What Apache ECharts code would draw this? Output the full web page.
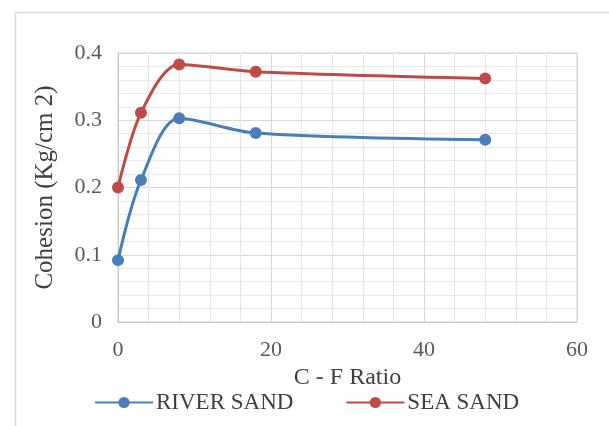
<!DOCTYPE html>
<html>
<head>
<meta charset="utf-8">
<script src="https://cdn.jsdelivr.net/npm/echarts@6/dist/echarts.min.js"></script>
<style>
  html, body { margin: 0; padding: 0; background: #ffffff; }
  #chart { width: 609px; height: 426px; }
</style>
</head>
<body>
<div id="chart"></div>
<script>
// C - F ratio values at which cohesion was measured
const cfRatio = [0, 3, 8, 18, 48];
// Cohesion in Kg/cm 2
const riverSand = [0.092, 0.211, 0.303, 0.281, 0.271];
const seaSand = [0.200, 0.311, 0.383, 0.372, 0.362];
const xTicks = [0, 20, 40, 60];
const yTicks = [0, 0.1, 0.2, 0.3, 0.4];

const serif = '"Liberation Serif", "DejaVu Serif", serif';
const pairs = (xs, ys) => xs.map((x, i) => [x, ys[i]]);

const chart = echarts.init(document.getElementById('chart'));
chart.setOption({
  animation: false,
  backgroundColor: '#ffffff',
  graphic: [{
    type: 'rect',
    left: 13, top: 10,
    shape: { width: 620, height: 430 },
    style: { fill: 'none', stroke: '#d9d9d9', lineWidth: 1.5 },
    silent: true
  }],
  grid: { left: 118, right: 32, top: 53, bottom: 104, show: true, borderColor: '#d0d0d0', borderWidth: 1 },
  legend: {
    bottom: 7,
    left: 89,
    itemGap: 52,
    itemWidth: 58,
    itemHeight: 14,
    textStyle: { fontFamily: serif, fontSize: 23, color: '#404040', padding: [0, 0, 0, -2] },
    data: ['RIVER SAND', 'SEA SAND']
  },
  xAxis: {
    type: 'value',
    min: 0, max: 60, interval: 20,
    name: 'C - F Ratio',
    nameLocation: 'middle',
    nameGap: 42,
    nameTextStyle: { fontFamily: serif, fontSize: 24, color: '#404040' },
    axisLine: { show: true, lineStyle: { color: '#c8c8c8' } },
    axisTick: { show: false },
    axisLabel: {
      margin: 17, fontFamily: serif, fontSize: 22, color: '#595959',
      formatter: v => xTicks.includes(v) ? String(v) : ''
    },
    splitLine: { show: true, lineStyle: { color: '#d9d9d9' } },
    minorTick: { show: false, splitNumber: 5 },
    minorSplitLine: { show: true, lineStyle: { color: '#e6e6e6' } }
  },
  yAxis: {
    type: 'value',
    min: 0, max: 0.4, interval: 0.1,
    name: 'Cohesion (Kg/cm 2)',
    nameLocation: 'middle',
    nameGap: 60,
    nameTextStyle: { fontFamily: serif, fontSize: 25, color: '#404040' },
    axisLine: { show: true, lineStyle: { color: '#c8c8c8' } },
    axisTick: { show: false },
    axisLabel: {
      margin: 16, fontFamily: serif, fontSize: 22, color: '#595959',
      formatter: v => {
        const t = yTicks.find(y => Math.abs(y - v) < 1e-9);
        return t === undefined ? '' : String(t);
      }
    },
    splitLine: { show: true, lineStyle: { color: '#d9d9d9' } },
    minorTick: { show: false, splitNumber: 5 },
    minorSplitLine: { show: true, lineStyle: { color: '#e9e9e9' } }
  },
  series: [
    {
      name: 'RIVER SAND',
      type: 'line',
      smooth: 0.3,
      data: pairs(cfRatio, riverSand),
      symbol: 'circle',
      symbolSize: 12,
      lineStyle: { color: '#4a7ebb', width: 3 },
      itemStyle: { color: '#4a7ebb' }
    },
    {
      name: 'SEA SAND',
      type: 'line',
      smooth: 0.3,
      data: pairs(cfRatio, seaSand),
      symbol: 'circle',
      symbolSize: 12,
      lineStyle: { color: '#be4b48', width: 3 },
      itemStyle: { color: '#be4b48' }
    }
  ]
});
</script>
</body>
</html>
